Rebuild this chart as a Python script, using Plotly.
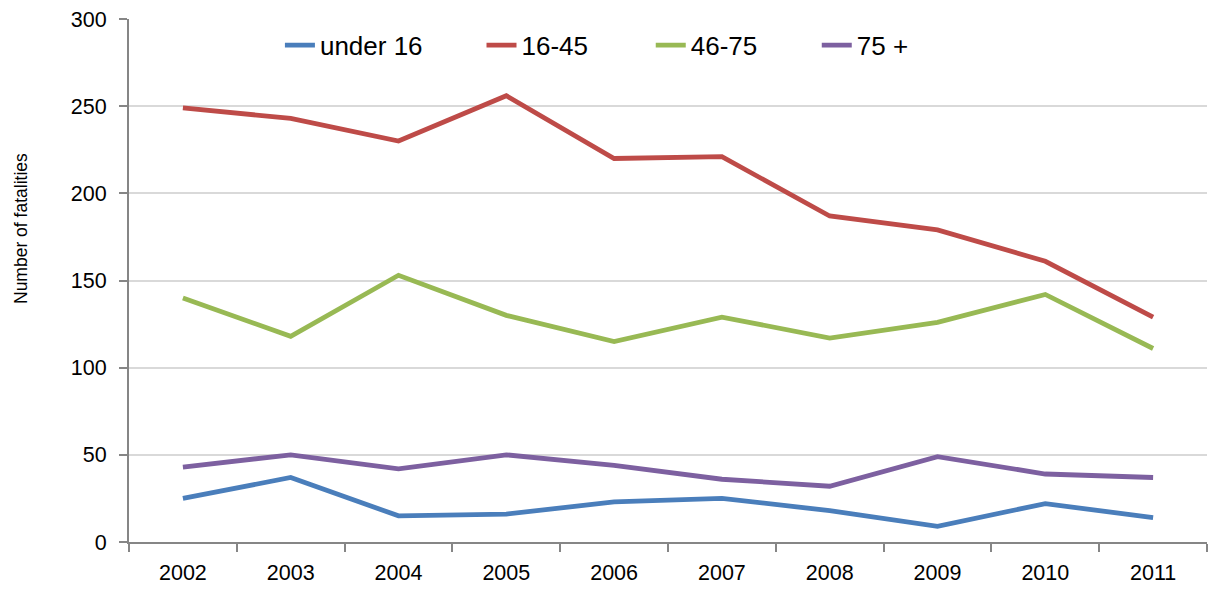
import plotly.graph_objects as go

years = ["2002", "2003", "2004", "2005", "2006", "2007", "2008", "2009", "2010", "2011"]
under16 = [25, 37, 15, 16, 23, 25, 18, 9, 22, 14]
age16_45 = [249, 243, 230, 256, 220, 221, 187, 179, 161, 129]
age46_75 = [140, 118, 153, 130, 115, 129, 117, 126, 142, 111]
age75plus = [43, 50, 42, 50, 44, 36, 32, 49, 39, 37]

series_names = ["under 16", "16-45", "46-75", "75 +"]
series_values = [under16, age16_45, age46_75, age75plus]
series_colors = ["#4A7EBB", "#BE4B48", "#98B954", "#7D60A0"]
legend_x = [0.140, 0.327, 0.484, 0.638]

font = "Liberation Sans, Arial, sans-serif"

fig = go.Figure()
legend_ids = ["legend", "legend2", "legend3", "legend4"]
for name, vals, col, lid in zip(series_names, series_values, series_colors, legend_ids):
    fig.add_trace(go.Scatter(x=years, y=vals, name=name, mode="lines",
                             line=dict(color=col, width=4.8), legend=lid))

layout_legends = {}
for lid, lx in zip(legend_ids, legend_x):
    layout_legends[lid] = dict(x=lx, y=0.95, xanchor="left", yanchor="middle",
                               font=dict(family=font, size=26, color="#000"),
                               bgcolor="rgba(0,0,0,0)", orientation="h")

fig.update_layout(
    width=1209, height=590,
    margin=dict(l=129, r=2, t=19, b=48),
    paper_bgcolor="white", plot_bgcolor="white",
    font=dict(family=font, size=21.5, color="#000"),
    showlegend=True,
    xaxis=dict(type="category", showgrid=False, showline=True, linecolor="#868686",
               linewidth=2, ticks="outside", tickson="boundaries", ticklen=8,
               tickcolor="#868686", tickwidth=2, range=[-0.5, 9.5],
               tickfont=dict(size=21.5), ticklabelstandoff=10),
    yaxis=dict(range=[0, 300], dtick=50, showgrid=True, gridcolor="#D9D9D9",
               gridwidth=1.5, showline=True, linecolor="#868686", linewidth=2,
               ticks="outside", ticklen=8, tickcolor="#868686", tickwidth=2,
               zeroline=False, tickfont=dict(size=21.5), ticklabelstandoff=8),
    annotations=[dict(text="Number of fatalities", textangle=-90, xref="paper", yref="paper",
                      x=(21 - 129) / 1078, y=(542 - 229) / 523, xanchor="center", yanchor="middle",
                      showarrow=False, font=dict(family=font, size=17.5, color="#000"))],
    **layout_legends,
)
fig.write_html("out.html", config={"displayModeBar": False},
               post_script="document.body.style.margin='0';document.body.style.overflow='hidden';")
